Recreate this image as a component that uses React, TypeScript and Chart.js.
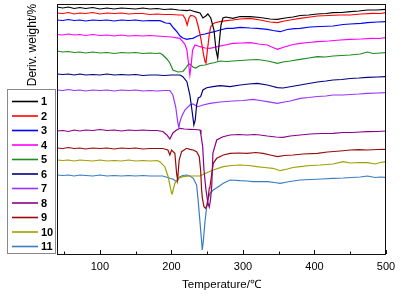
import { useEffect, useRef } from 'react';
import { Chart, registerables } from 'chart.js';
Chart.register(...registerables);

// [temperature (°C), offset derivative weight signal (arbitrary units)]
const s1: [number, number][] = [[40,248],[48,247],[56,248],[64,246.5],[72,247.5],[80,246.5],[90,247.5],[100,246],[110,247],[120,246],[130,247],[140,246.5],[150,246],[160,247],[170,246],[180,246.5],[190,245.5],[200,246],[210,245],[222,244.3],[226,245],[233,243.3],[240,242],[244,237],[248,239],[251,241],[255,237],[259.5,225],[262.3,205],[264.7,197],[266.5,210],[269.3,230],[272,237],[276,238],[286,236.7],[296,238.5],[310,238.3],[324,237.5],[338,236],[348,235.7],[359,237],[370,238],[380,239.5],[392,240],[404,241],[416,241.5],[426,242.3],[438,242.5],[450,243.3],[462,244],[474,245],[487,245],[500,245.7]];
const s2: [number, number][] = [[40,242],[48,241.5],[56,242.5],[64,241],[72,242],[80,241.5],[90,242.5],[100,241],[110,242],[120,241.5],[130,242],[140,241],[150,241.5],[160,241.5],[170,240.5],[180,241],[190,240.5],[200,240.5],[210,240],[216,240],[219.5,236],[222,230],[224.5,237],[227,239.5],[231,239],[234,237.5],[237,230],[240,221],[242.2,212],[245,200],[247,193.3],[248.3,192],[250,203],[251.5,212],[253,221],[254.8,228],[258,231],[261,232.3],[268,233.3],[277,234.3],[286,235],[296,236],[310,236.7],[324,235],[338,233],[348,232.3],[358,234],[370,235.5],[380,236.7],[394,238],[404,239],[420,239.5],[436,240],[450,240],[465,241],[482,241.7],[492,241.5],[500,242.3]];
const s3: [number, number][] = [[40,235],[48,234.5],[56,235.5],[64,234.5],[72,235],[80,234],[90,235],[100,234.5],[110,235],[120,234],[130,235],[140,234.5],[150,235],[160,234],[170,234.5],[184,234.3],[192,232],[198,231.7],[203,227],[207.6,223.3],[212,219],[216,217],[221.6,215.7],[226,216.3],[230,216.7],[235,218.5],[240,220],[247,221],[254,222.3],[261,223.5],[268,225],[277,226.7],[286,226.7],[296,227.7],[310,227],[320,226.7],[334,225.7],[342,224.5],[352,223.3],[362,225.5],[372,226.3],[380,226.7],[394,228],[408,228.5],[426,229],[440,230.5],[450,231],[465,231.7],[474,232.3],[488,233],[500,233.3]];
const s4: [number, number][] = [[40,220.5],[48,220],[56,221],[64,220],[72,220.5],[80,219.5],[90,220.5],[100,219.5],[110,220],[120,219],[130,220],[140,219],[150,219.5],[160,219],[170,219.5],[180,219],[190,218.5],[200,218],[211.8,216.7],[218.8,211],[221.6,205],[223.7,193],[225.8,180],[228,193],[229.6,205],[232.8,210],[240,208.3],[247,207],[254,206.7],[264,208.3],[275,210],[286,211.7],[298,212],[310,212.3],[322,211],[334,210],[342,207.5],[348,205.7],[358,208],[370,210.5],[380,211.7],[392,212.5],[404,213.3],[420,214],[436,215],[450,215.7],[465,216],[480,216.7],[490,216.5],[500,217.3]];
const s5: [number, number][] = [[40,204],[48,203],[56,203.5],[64,202.5],[72,203],[80,202],[90,203],[100,202],[110,202.5],[120,201.5],[130,202.5],[140,202],[150,202.5],[160,201.5],[170,202],[178,201.5],[184,202],[188,200],[193.6,196],[197.8,192],[202,185],[209,183],[216,183.5],[220.2,187],[223,190],[225.8,191],[230,188],[234,187],[240,189.5],[247,190],[254,191.5],[261,192.5],[268,194],[277,193.5],[286,194],[296,194.5],[306,195],[320,195.5],[330,194.5],[338,193.5],[348,191.7],[356,193],[366,194],[380,195.7],[392,197],[404,198.3],[415,198],[426,199],[438,199.5],[450,200],[464,201],[474,203],[482,201.5],[492,202],[500,202.3]];
const s6: [number, number][] = [[40,181],[48,180.5],[56,181],[64,180],[72,181],[80,180],[90,180.5],[100,180],[110,181],[120,180],[130,180.5],[140,180],[150,180.5],[160,179.5],[170,180],[180,180],[190,179.5],[200,180],[206,180],[212,180],[216,178.3],[221.6,173.3],[225.8,160],[229.6,140],[231.4,130],[233.3,135],[235.2,150],[237.5,157],[240.8,158.3],[244,165],[249.3,167.3],[258,168.3],[268,169.3],[282,168.3],[296,170],[308,171],[320,171.7],[334,170],[342,168.5],[348,167.3],[356,167],[368,168.5],[380,170],[392,171.5],[404,173],[416,174],[426,175],[438,175.5],[450,176.5],[462,177],[474,177.7],[488,178],[500,178.3]];
const s7: [number, number][] = [[40,165],[48,164.5],[56,165.5],[64,164.5],[72,165],[80,164],[90,165],[100,164.5],[110,165],[120,164],[130,165],[140,164.5],[150,165],[160,164],[170,164.5],[180,164],[190,164.5],[197.8,164.5],[202,160],[206,148],[209,132],[210.4,127.3],[211.8,133],[214.2,138.3],[218.8,145],[225.8,150],[230,151],[237,148.3],[244,150],[254,151.7],[268,153],[286,154],[300,154.5],[314,155.7],[324,154.5],[334,153.3],[348,151.7],[358,153],[366,154],[380,156.7],[392,157.5],[404,158.5],[416,159],[426,160],[440,160],[450,160.5],[462,161],[474,161.7],[488,162],[500,162.3]];
const s8: [number, number][] = [[40,124],[48,124.5],[56,123.5],[64,125],[72,124],[80,125],[90,124.5],[100,125.5],[110,124.5],[120,125],[130,124],[140,125],[150,124.5],[160,125],[170,124.5],[180,124.5],[188,123.5],[193.6,120],[197.8,116],[202,122],[207.2,125],[211.8,126.7],[218,126],[225.8,125.7],[233,125.5],[240,125],[241.3,120],[243.7,108.3],[245.5,85],[248.3,65],[251,52],[252.9,48],[254.6,55],[256.3,68.3],[258,102],[263.3,115],[272,118.3],[282,120],[294,120.5],[306,120],[316,120.5],[324,120],[334,119],[346,118],[356,117.7],[366,119],[380,120],[394,121],[410,121.5],[426,121.7],[440,122.5],[452,122.5],[464,123],[474,123.3],[488,123.5],[500,124]];
const s9: [number, number][] = [[40,107],[48,106.5],[56,107.5],[64,106.5],[72,107],[80,106],[90,107],[100,106.5],[110,107],[120,106],[130,107],[140,106.5],[150,107],[160,106],[170,106.5],[180,106.5],[188,106.5],[195,105],[197.8,100],[200.2,105],[204.8,101.7],[207.2,81.7],[208.6,75],[210.8,95],[214.2,103.3],[221.2,106.7],[225.8,105.7],[230.5,105],[235.2,103.3],[238.9,98.3],[240.8,85],[242.2,65],[243.3,56.7],[245.5,48.3],[247.6,46.7],[250.1,50],[251.5,58.3],[252.9,67],[253.9,68.3],[258.5,91.7],[263.3,96.7],[272.5,100],[282,101.7],[294,102],[306,101.7],[318,102.5],[328,101.7],[338,100],[348,98.3],[358,99.5],[370,100],[384,101],[404,101.7],[418,103],[436,104],[450,105],[462,105.3],[474,105],[488,105.5],[500,105.7]];
const s10: [number, number][] = [[40,95],[48,94.5],[56,95],[64,94],[72,95],[80,94.5],[90,94],[100,95],[110,94],[120,94.5],[130,94],[140,95],[150,94],[160,94.5],[170,94],[180,94.5],[183.8,93.3],[190.8,88.3],[195.4,78.3],[200.2,61.7],[201,61],[204.8,71.7],[209.4,76.7],[216.4,78.3],[225.8,79],[240,79],[249.3,82.3],[258.5,85],[272.5,88.3],[284,89.5],[296,90],[308,89.5],[319.4,88.3],[330,87.5],[342,86.7],[352,84.3],[362,86],[370,87.5],[380,88.3],[394,89.5],[408,90],[426,91],[440,93.3],[450,92],[462,92.5],[474,92.3],[485,91],[492,92.5],[500,93.3]];
const s11: [number, number][] = [[40,80],[48,79.5],[56,80],[64,79],[72,80],[80,79.5],[90,79],[100,80],[110,79],[120,79.5],[130,79],[140,79.5],[150,79],[160,79.5],[170,79],[180,79],[188,79],[197.8,76.7],[202.4,75.7],[207.2,73.3],[211.8,78.3],[216,79.5],[221.2,80],[226,79],[230.5,76.7],[235.2,70],[237.5,53.3],[239.9,33.3],[242.2,13.3],[243.1,5],[244.5,13.3],[246.9,33.3],[250.1,53.3],[253.9,61.7],[258.5,65],[265.5,68.3],[272.5,71.7],[282,75],[296,74.3],[306,74],[314,73.3],[324,73.5],[334,73.3],[344,72.5],[352,71.7],[362,73],[370,74],[380,75],[396,75.5],[410,76],[426,76.7],[440,77],[452,77.5],[464,78],[474,79],[485,77.5],[492,78],[500,77.7]];

const seriesLabels = ['1', '2', '3', '4', '5', '6', '7', '8', '9', '10', '11'];
const seriesData = [s1, s2, s3, s4, s5, s6, s7, s8, s9, s10, s11];
const seriesColors = ['#000000', '#ff0000', '#0000ff', '#ff00ff', '#1e8c1e', '#000080', '#9933ff', '#8b008b', '#9b0a0a', '#a0a000', '#3a7cc4'];
const majorTicks = [100, 200, 300, 400, 500];
const minorTicks = [50, 150, 250, 350, 450];

const FONT = '"Liberation Sans", Arial, sans-serif';

const decorPlugin = {
  id: 'decor',
  afterDraw(chart: any) {
    const { ctx, chartArea: a, scales } = chart;
    const xs = scales.x;
    ctx.save();
    // frame
    ctx.strokeStyle = '#111';
    ctx.lineWidth = 1;
    ctx.strokeRect(a.left + 0.5, a.top + 0.5, a.right - a.left - 1, a.bottom - a.top);
    // inward ticks
    ctx.beginPath();
    majorTicks.forEach((v) => {
      const px = Math.round(xs.getPixelForValue(v)) + 0.5;
      ctx.moveTo(px, a.bottom);
      ctx.lineTo(px, a.bottom - 4);
    });
    minorTicks.forEach((v) => {
      const px = Math.round(xs.getPixelForValue(v)) + 0.5;
      ctx.moveTo(px, a.bottom);
      ctx.lineTo(px, a.bottom - 2.5);
    });
    ctx.stroke();
    // axis titles
    ctx.fillStyle = '#000';
    ctx.textAlign = 'center';
    ctx.textBaseline = 'middle';
    ctx.font = `11.5px ${FONT}`;
    ctx.fillText('Temperature/℃', (a.left + a.right) / 2, 285);
    ctx.save();
    ctx.translate(32.5, 45);
    ctx.rotate(-Math.PI / 2);
    ctx.font = `12px ${FONT}`;
    ctx.fillText('Deriv. weight/%', 0, 0);
    ctx.restore();
    // legend
    ctx.strokeStyle = '#888';
    ctx.lineWidth = 1;
    ctx.fillStyle = '#fff';
    ctx.fillRect(7.5, 89.5, 48, 164);
    ctx.strokeRect(7.5, 89.5, 48, 164);
    ctx.font = `bold 11px ${FONT}`;
    ctx.textAlign = 'left';
    chart.data.datasets.forEach((ds: any, i: number) => {
      const y = 101.5 + i * 14.5;
      ctx.strokeStyle = ds.borderColor;
      ctx.lineWidth = 1.6;
      ctx.beginPath();
      ctx.moveTo(12, y);
      ctx.lineTo(38, y);
      ctx.stroke();
      ctx.fillStyle = '#000';
      ctx.fillText(ds.label, 41, y + 0.5);
    });
    ctx.restore();
  },
};

export default function App() {
  const ref = useRef<HTMLCanvasElement>(null);
  useEffect(() => {
    if (!ref.current) return;
    const chart = new Chart(ref.current, {
      type: 'line',
      data: {
        datasets: seriesData.map((d, i) => ({
          label: seriesLabels[i],
          data: d.map(([x, y]) => ({ x, y })),
          borderColor: seriesColors[i],
          backgroundColor: seriesColors[i],
          borderWidth: 1.2,
          pointRadius: 0,
          tension: 0,
          fill: false,
        })),
      },
      options: {
        animation: false,
        responsive: false,
        maintainAspectRatio: false,
        layout: { padding: { left: 57, right: 16, top: 4, bottom: 0 } },
        plugins: { legend: { display: false }, tooltip: { enabled: false }, title: { display: false } },
        scales: {
          x: {
            type: 'linear',
            min: 40,
            max: 500,
            grid: { display: false, drawTicks: false },
            border: { display: false },
            ticks: { stepSize: 100, autoSkip: false, maxRotation: 0, padding: 6, color: '#000', font: { family: FONT, size: 11 } },
            afterBuildTicks: (s: any) => {
              s.ticks = s.ticks.filter((t: any) => t.value % 100 === 0);
            },
            afterFit: (s: any) => {
              s.height = 43;
            },
          },
          y: { type: 'linear', min: 1, max: 251, display: false },
        },
      },
      plugins: [decorPlugin],
    } as any);
    return () => chart.destroy();
  }, []);
  return (
    <div style={{ position: 'fixed', left: 0, top: 0, width: 402, height: 297, background: '#fff' }}>
      <canvas ref={ref} width={402} height={297} style={{ display: 'block' }} />
    </div>
  );
}
